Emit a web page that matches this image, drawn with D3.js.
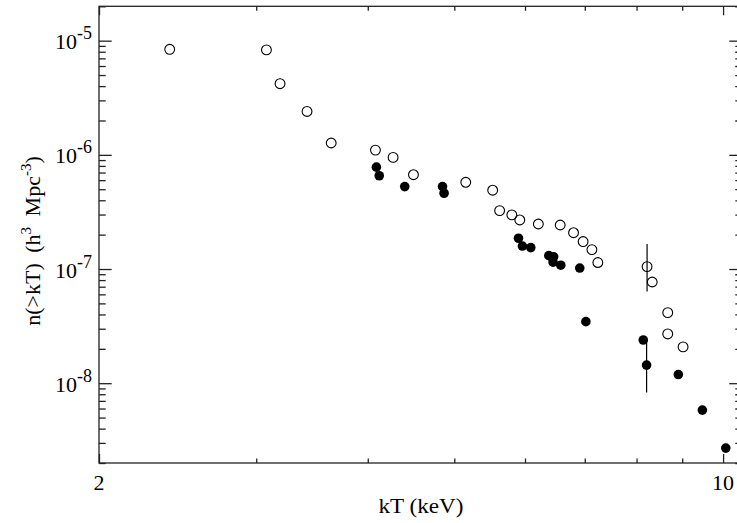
<!DOCTYPE html>
<html>
<head>
<meta charset="utf-8">
<script src="https://cdn.jsdelivr.net/npm/d3@7"></script>
<style>
  body { margin: 0; background: #fff; }
  svg text, svg tspan { font-family: "Times New Roman", "Liberation Serif", Tinos, "Nimbus Roman", FreeSerif, "DejaVu Serif", serif !important; }
</style>
</head>
<body>
<script>
// open circles
const kTOpen = [2.40, 3.08, 3.19, 3.42, 3.64, 4.08, 4.27, 4.50, 5.15, 5.52, 5.62, 5.80,
                5.92, 6.21, 6.57, 6.80, 6.97, 7.13, 7.24, 8.22, 8.33, 8.67, 8.67, 9.02]
const nOpen = [8.4e-6, 8.3e-6, 4.2e-6, 2.4e-6, 1.27e-6, 1.10e-6, 9.5e-7, 6.7e-7, 5.75e-7,
               4.9e-7, 3.25e-7, 2.98e-7, 2.69e-7, 2.48e-7, 2.43e-7, 2.08e-7, 1.74e-7,
               1.48e-7, 1.14e-7, 1.05e-7, 7.7e-8, 4.15e-8, 2.70e-8, 2.08e-8]

// filled circles
const kTFilled = [4.09, 4.12, 4.40, 4.85, 4.87, 5.90, 5.96, 6.09, 6.38, 6.46, 6.45, 6.58,
                  6.91, 7.02, 8.14, 8.21, 8.91, 9.48, 10.07]
const nFilled = [7.8e-7, 6.56e-7, 5.27e-7, 5.27e-7, 4.61e-7, 1.86e-7, 1.59e-7, 1.54e-7,
                 1.31e-7, 1.28e-7, 1.15e-7, 1.08e-7, 1.02e-7, 3.46e-8, 2.39e-8, 1.44e-8,
                 1.19e-8, 5.81e-9, 2.70e-9]

// error bars (vertical)
const errKT = [8.22, 8.21]
const errLo = [6.34e-8, 8.27e-9]
const errHi = [1.66e-7, 2.35e-8]

// ticks
const xMajor = [2, 10]
const xMinor = [3, 4, 5, 6, 7, 8, 9]
const yExp = [-5, -6, -7, -8]

const fuente = '"Times New Roman", "Liberation Serif", Tinos, "Nimbus Roman", FreeSerif, serif'

const anchoTotal = 737, altoTotal = 523
const margins = { top: 6.3, right: -5, bottom: 60, left: 99 }
const ancho = anchoTotal - margins.left - margins.right
const alto = altoTotal - margins.top - margins.bottom

const svg = d3.select("body").append("svg")
  .attr("width", anchoTotal).attr("height", altoTotal)
  .attr("font-family", fuente)

const x = d3.scaleLog().domain([2, 10.5]).range([0, ancho])
const y = d3.scaleLog().domain([2e-9, 2e-5]).range([alto, 0])

const yMajor = yExp.map(e => Math.pow(10, e))
const yMinor = []
yExp.concat([-9]).forEach(e => {
  for (let k = 2; k <= 9; k++) {
    const v = k * Math.pow(10, e)
    if (v >= 2e-9 && v <= 2e-5) yMinor.push(v)
  }
})

const g = svg.append("g")
  .attr("transform", `translate(${margins.left}, ${margins.top})`)

// frame
g.append("rect").attr("width", ancho).attr("height", alto)
  .attr("fill", "none").attr("stroke", "#222").attr("stroke-width", 1.3)

// axes (inward ticks, mirrored)
const mk = (axis, tr) => g.append("g")
  .attr("transform", tr).call(axis)
  .attr("font-family", null).attr("font-size", null)
  .call(s => s.select(".domain").remove())
  .call(s => s.selectAll("text").remove())
  .call(s => s.selectAll("line").attr("stroke", "#222").attr("stroke-width", 1.3))

mk(d3.axisBottom(x).tickValues(xMajor).tickSize(-9), `translate(0,${alto})`)
mk(d3.axisBottom(x).tickValues(xMinor).tickSize(-4.5), `translate(0,${alto})`)
mk(d3.axisTop(x).tickValues(xMajor).tickSize(-9), "translate(0,0)")
mk(d3.axisTop(x).tickValues(xMinor).tickSize(-4.5), "translate(0,0)")
mk(d3.axisLeft(y).tickValues(yMajor).tickSize(-12.7), "translate(0,0)")
mk(d3.axisLeft(y).tickValues(yMinor).tickSize(-6.7), "translate(0,0)")
mk(d3.axisRight(y).tickValues(yMajor).tickSize(-12.7), `translate(${ancho},0)`)
mk(d3.axisRight(y).tickValues(yMinor).tickSize(-6.7), `translate(${ancho},0)`)

// x tick labels
svg.selectAll(".xlab").data(xMajor).enter().append("text")
  .attr("x", d => margins.left + x(d)).attr("y", margins.top + alto + 27)
  .attr("text-anchor", "middle").attr("font-size", 22)
  .style("font-family", fuente)
  .text(d => d)

// y tick labels 10^e
const yl = svg.selectAll(".ylab").data(yExp).enter().append("text")
  .attr("x", margins.left - 7).attr("y", d => margins.top + y(Math.pow(10, d)) + 8.6)
  .attr("text-anchor", "end").attr("font-size", 22)
  .style("font-family", fuente)
yl.append("tspan").text("10")
yl.append("tspan").attr("dy", -10).attr("font-size", 18).text(d => d)

// axis titles
svg.append("text")
  .attr("x", 421).attr("y", 513).attr("text-anchor", "middle")
  .attr("font-size", 21).style("font-family", fuente)
  .attr("textLength", 85).attr("lengthAdjust", "spacingAndGlyphs")
  .text("kT (keV)")

const yt = svg.append("text")
  .attr("transform", "translate(40,241) rotate(-90)")
  .attr("text-anchor", "middle").attr("font-size", 22)
  .style("font-family", fuente)
  .style("word-spacing", "5px")
yt.append("tspan").text("n(>kT) (h")
yt.append("tspan").attr("dy", -9).attr("font-size", 15).text("3")
yt.append("tspan").attr("dy", 9).text(" Mpc")
yt.append("tspan").attr("dy", -9).attr("font-size", 15).text("-3")
yt.append("tspan").attr("dy", 9).text(")")

// error bars
g.selectAll(".err").data(errKT).enter().append("line")
  .attr("x1", d => x(d)).attr("x2", d => x(d))
  .attr("y1", (d, i) => y(errLo[i])).attr("y2", (d, i) => y(errHi[i]))
  .attr("stroke", "#000").attr("stroke-width", 1.2)

// points
g.selectAll(".op").data(kTOpen).enter().append("circle")
  .attr("cx", d => x(d)).attr("cy", (d, i) => y(nOpen[i]))
  .attr("r", 4.9).attr("fill", "none")
  .attr("stroke", "#000").attr("stroke-width", 1.1)

g.selectAll(".fp").data(kTFilled).enter().append("circle")
  .attr("cx", d => x(d)).attr("cy", (d, i) => y(nFilled[i]))
  .attr("r", 4.8).attr("fill", "#000")
</script>
</body>
</html>
